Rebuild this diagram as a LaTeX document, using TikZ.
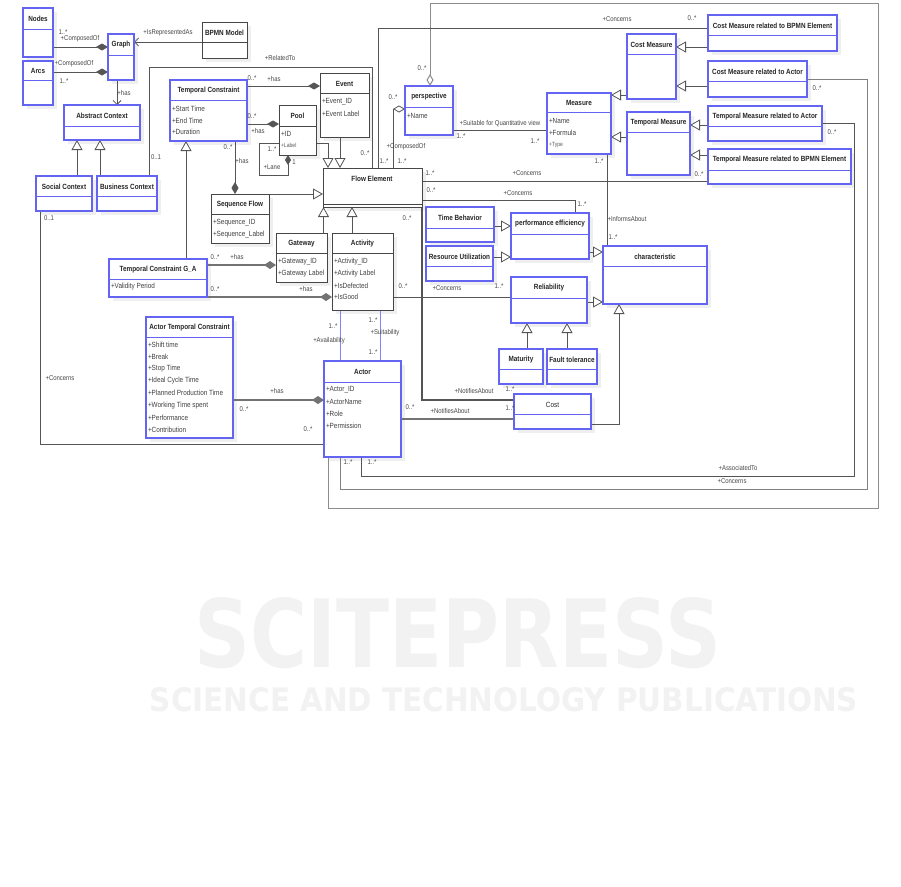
\documentclass[tikz,border=0pt]{standalone}
\usepackage{fontspec}
\usepackage{graphicx}
\setmainfont{Liberation Sans}[FakeStretch=0.85]
\newfontfamily\wmfont{DejaVu Sans}
\usetikzlibrary{arrows.meta,calc}
\pgfdeclarelayer{back}
\pgfdeclarelayer{bg}
\pgfsetlayers{back,bg,main}
\definecolor{ublue}{RGB}{100,100,242}
\definecolor{udark}{RGB}{70,70,70}
\definecolor{uline}{RGB}{85,85,85}
\definecolor{ushadow}{RGB}{239,239,239}
\definecolor{wmc}{RGB}{242,242,242}
\tikzset{
  every node/.style={inner sep=0pt, outer sep=0pt},
  cbox/.style={fill=white, anchor=north west, inner sep=0pt, outer sep=0pt},
  bx-ublue/.style={draw=ublue, line width=1.1pt},
  bx-udark/.style={draw=udark, line width=0.9pt},
  ttl/.style={font=\fontsize{7.5}{8}\selectfont\bfseries, text=black!85},
  att/.style={font=\fontsize{7.5}{8}\selectfont, text=black!75, anchor=west},
  satt/.style={font=\fontsize{6}{7}\selectfont, text=black!65, anchor=west},
  lbl/.style={font=\fontsize{7}{8}\selectfont, text=black!72},
  conn/.style={draw=uline, line width=0.8pt},
  thk/.style={draw=black!55, line width=1.6pt},
  bconn/.style={draw=ublue!80, line width=1pt},
  gen/.style={conn, -{Triangle[open, length=10pt, width=11pt, fill=white]}},
  comp/.style={conn, -{Diamond[length=12pt, width=7pt]}},
  aggr/.style={conn, -{Diamond[open, length=12pt, width=7pt, fill=white]}},
  navi/.style={conn, -{Straight Barb[length=4pt, width=8pt]}},
}
% name, x1, y1, x2, y2, separator y, title, colour
\newcommand{\umlc}[8]{%
  \begin{pgfonlayer}{bg}\fill[ushadow] (#2+4,#3+4) rectangle (#4+4,#5+4);\end{pgfonlayer}
  \node[cbox, bx-#8, minimum width=#4pt-#2pt, minimum height=#5pt-#3pt] (#1) at (#2,#3) {};
  \draw[#8, line width=1pt] (#2,#6) -- (#4,#6);
  \node[ttl] (#1-t) at ({(#2+#4)/2},{(#3+#6)/2+0.5}) {#7};
}
\newcommand{\att}[4]{\node[att] (#1) at (#2,#3) {#4};}
\newcommand{\lb}[4]{\node[lbl] (#1) at (#2,#3) {#4};}
\begin{document}
\begin{tikzpicture}[x=1pt,y=-1pt]
\useasboundingbox (0,0) rectangle (901,886);
\begin{pgfonlayer}{back}
  \fill[white] (0,0) rectangle (901,886);
  \node[text=wmc] (wm1) at (458,633) {\resizebox{526pt}{70pt}{\wmfont\bfseries SCITEPRESS}};
  \node[text=wmc] (wm2) at (504,700) {\resizebox{708pt}{24pt}{\wmfont\bfseries SCIENCE AND TECHNOLOGY PUBLICATIONS}};
\end{pgfonlayer}

% ---------- classes ----------
\umlc{nodes}{23}{8}{53}{57}{29}{Nodes}{ublue}
\umlc{arcs}{23}{61}{53}{105}{80}{Arcs}{ublue}
\umlc{graph}{108}{34}{134}{80}{55}{Graph}{ublue}
\umlc{bpmn}{202}{22}{247}{58}{42}{BPMN Model}{udark}
\umlc{abs}{64}{105}{140}{140}{126}{Abstract Context}{ublue}
\umlc{social}{36}{176}{92}{211}{196}{Social Context}{ublue}
\umlc{business}{97}{176}{157}{211}{196}{Business Context}{ublue}
\umlc{tc}{170}{80}{247}{141}{100}{Temporal Constraint}{ublue}
\att{tc-a1}{172}{109}{+Start Time}
\att{tc-a2}{172}{121}{+End Time}
\att{tc-a3}{172}{132}{+Duration}
\umlc{event}{320}{73}{369}{137}{93}{Event}{udark}
\att{event-a1}{322}{102}{+Event\_ID}
\att{event-a2}{322}{114}{+Event Label}
\umlc{pool}{279}{105}{316}{155}{126}{Pool}{udark}
\att{pool-a1}{281}{134}{+ID}
\node[satt] (pool-a2) at (281,145) {+Label};
\umlc{fe}{323}{168}{422}{207}{204}{}{udark}
\node[ttl] (fe-tt) at (372,178.5) {Flow Element};
\umlc{sf}{211}{194}{269}{243}{214}{Sequence Flow}{udark}
\att{sf-a1}{213}{223}{+Sequence\_ID}
\att{sf-a2}{213}{235}{+Sequence\_Label}
\umlc{gw}{276}{233}{327}{282}{253}{Gateway}{udark}
\att{gw-a1}{278}{262}{+Gateway\_ID}
\att{gw-a2}{278}{274}{+Gateway Label}
\umlc{act}{332}{233}{393}{310}{253}{Activity}{udark}
\att{act-a1}{334}{262}{+Activity\_ID}
\att{act-a2}{334}{274}{+Activity Label}
\att{act-a3}{334}{286}{+IsDefected}
\att{act-a4}{334}{297}{+IsGood}
\umlc{tcga}{109}{259}{207}{297}{279}{Temporal Constraint G\_A}{ublue}
\att{tcga-a1}{111}{287}{+Validity Period}
\umlc{atc}{146}{317}{233}{438}{337}{Actor Temporal Constraint}{ublue}
\att{atc-a1}{148}{345}{+Shift time}
\att{atc-a2}{148}{357}{+Break}
\att{atc-a3}{148}{369}{+Stop Time}
\att{atc-a4}{148}{381}{+Ideal Cycle Time}
\att{atc-a5}{148}{393}{+Planned Production Time}
\att{atc-a6}{148}{406}{+Working Time spent}
\att{atc-a7}{148}{418}{+Performance}
\att{atc-a8}{148}{430}{+Contribution}
\umlc{actor}{324}{361}{401}{457}{382}{Actor}{ublue}
\att{actor-a1}{326}{390}{+Actor\_ID}
\att{actor-a2}{326}{402}{+ActorName}
\att{actor-a3}{326}{414}{+Role}
\att{actor-a4}{326}{426}{+Permission}
\umlc{persp}{405}{86}{453}{135}{107}{perspective}{ublue}
\att{persp-a1}{407}{116}{+Name}
\umlc{meas}{547}{93}{611}{154}{112}{Measure}{ublue}
\att{meas-a1}{549}{121}{+Name}
\att{meas-a2}{549}{133}{+Formula}
\node[satt] (meas-a3) at (549,145) {+Type};
\umlc{cm}{627}{34}{676}{99}{54}{Cost Measure}{ublue}
\umlc{tm}{627}{112}{690}{175}{132}{Temporal Measure}{ublue}
\umlc{cmrbe}{708}{15}{837}{51}{35}{Cost Measure related to BPMN Element}{ublue}
\umlc{cmra}{708}{61}{807}{97}{81}{Cost Measure related to Actor}{ublue}
\umlc{tmra}{708}{106}{822}{141}{126}{Temporal Measure related to Actor}{ublue}
\umlc{tmrbe}{708}{149}{851}{184}{170}{Temporal Measure related to BPMN Element}{ublue}
\umlc{tb}{426}{207}{494}{242}{228}{Time Behavior}{ublue}
\umlc{ru}{426}{246}{493}{281}{266}{Resource Utilization}{ublue}
\umlc{pe}{511}{213}{589}{259}{234}{performance efficiency}{ublue}
\umlc{char}{603}{246}{707}{304}{266}{characteristic}{ublue}
\umlc{rel}{511}{277}{587}{323}{298}{Reliability}{ublue}
\umlc{mat}{499}{349}{543}{384}{369}{Maturity}{ublue}
\umlc{ft}{547}{349}{597}{384}{369}{Fault tolerance}{ublue}
\umlc{cost}{514}{394}{591}{429}{414}{\mdseries Cost}{ublue}

% ---------- connectors ----------
\begin{pgfonlayer}{bg}
\draw[comp] (nodes.east |- 0,47) -- (graph.west |- 0,47);
\draw[comp] (arcs.east |- 0,72) -- (graph.west |- 0,72);
\draw[navi] (bpmn.west |- 0,42) -- (graph.east |- 0,42);
\draw[navi] (graph.south -| 117,0) -- (abs.north -| 117,0);
\draw[gen] (social.north -| 77,0) -- (abs.south -| 77,0);
\draw[gen] (business.north -| 100,0) -- (abs.south -| 100,0);
\draw[conn] (business.north -| 149,0) -- (149,67) -- (372,67) -- (fe.north -| 372,0);
\draw[comp] (tc.east |- 0,86) -- (event.west |- 0,86);
\draw[comp] (tc.east |- 0,124) -- (pool.west |- 0,124);
\draw[comp] (tc.south -| 235,0) -- (sf.north -| 235,0);
\draw[gen] (tcga.north -| 186,0) -- (tc.south -| 186,0);
\draw[gen] (pool.east |- 0,143) -- (328,143) -- (fe.north -| 328,0);
\draw[gen] (event.south -| 340,0) -- (fe.north -| 340,0);
\draw[gen] (sf.north east) -- (fe.west |- sf.north east);
\draw[gen] (gw.north -| 323.5,0) -- (fe.south -| 323.5,0);
\draw[gen] (act.north -| 352,0) -- (fe.south -| 352,0);
\draw[thk, -{Diamond[length=12pt, width=8pt]}] (tcga.east |- 0,265) -- (gw.west |- 0,265);
\draw[thk, -{Diamond[length=12pt, width=8pt]}] (tcga.east |- 0,297) -- (act.west |- 0,297);
\draw[bconn] (act.south -| 340,0) -- (actor.north -| 340,0);
\draw[bconn] (act.south -| 380,0) -- (actor.north -| 380,0);
\draw[thk, -{Diamond[length=12pt, width=8pt]}] (atc.east |- 0,400) -- (actor.west |- 0,400);
\draw[conn] (social.south -| 40,0) -- (40,444) -- (actor.west |- 0,444);
\draw[conn, {Diamond[length=10pt, width=6pt]}-] (pool.south -| 288,0) -- (288,175) -- (259,175) -- (259,143) -- (pool.west |- 0,143);
\draw[aggr, line width=1pt, draw=black!45] (actor.south -| 328,0) -- (328,508) -- (878,508) -- (878,3) -- (430,3) -- (persp.north -| 430,0);
\draw[conn, line width=1pt, draw=black!50] (actor.south -| 340,0) -- (340,489) -- (867,489) -- (867,79) -- (cmra.east |- 0,79);
\draw[conn] (actor.south -| 361,0) -- (361,476) -- (854,476) -- (854,123) -- (tmra.east |- 0,123);
\draw[conn] (fe.north -| 378,0) -- (378,28) -- (cmrbe.west |- 0,28);
\draw[aggr] (fe.north -| 393,0) -- (393,109) -- (persp.west |- 0,109);
\draw[conn] (persp.east |- 0,130) -- (meas.west |- 0,130);
\draw[gen] (cm.west |- 0,95) -- (meas.east |- 0,95);
\draw[gen] (tm.west |- 0,137) -- (meas.east |- 0,137);
\draw[gen] (cmrbe.west |- 0,47) -- (cm.east |- 0,47);
\draw[gen] (cmra.west |- 0,86) -- (cm.east |- 0,86);
\draw[gen] (tmra.west |- 0,125) -- (tm.east |- 0,125);
\draw[gen] (tmrbe.west |- 0,155) -- (tm.east |- 0,155);
\draw[conn] (meas.south -| 607,0) -- (char.north -| 607,0);
\draw[conn] (fe.east |- 0,181) -- (tmrbe.west |- 0,181);
\draw[conn] (fe.east |- 0,200) -- (575,200) -- (pe.north -| 575,0);
\draw[gen] (tb.east |- 0,226) -- (pe.west |- 0,226);
\draw[gen] (ru.east |- 0,257) -- (pe.west |- 0,257);
\draw[gen] (pe.east |- 0,252) -- (char.west |- 0,252);
\draw[gen] (rel.east |- 0,302) -- (char.west |- 0,302);
\draw[gen] (mat.north -| 527,0) -- (rel.south -| 527,0);
\draw[gen] (ft.north -| 567,0) -- (rel.south -| 567,0);
\draw[gen] (cost.east |- 0,424) -- (619,424) -- (char.south -| 619,0);
\draw[conn] (act.east |- 0,297) -- (rel.west |- 0,297);
\draw[conn, line width=1.2pt] (fe.south east) -- (422,400) -- (cost.west |- 0,400);
\draw[thk] (actor.east |- 0,419) -- (cost.west |- 0,419);
\end{pgfonlayer}

% ---------- labels ----------
\lb{lb1}{63}{32}{1..*}
\lb{lb2}{80}{39}{+ComposedOf}
\lb{lb3}{74}{64}{+ComposedOf}
\lb{lb4}{64}{81}{1..*}
\lb{lb5}{168}{33}{+IsRepresentedAs}
\lb{lb6}{124}{93}{+has}
\lb{lb7}{156}{157}{0..1}
\lb{lb8}{280}{58}{+RelatedTo}
\lb{lb9}{252}{78}{0..*}
\lb{lb10}{274}{79}{+has}
\lb{lb11}{252}{116}{0..*}
\lb{lb12}{258}{131}{+has}
\lb{lb13}{228}{147}{0..*}
\lb{lb14}{242}{161}{+has}
\lb{lb15}{272}{149}{1..*}
\lb{lb16}{272}{167}{+Lane}
\lb{lb17}{294}{162}{1}
\lb{lb18}{365}{153}{0..*}
\lb{lb19}{384}{161}{1..*}
\lb{lb20}{402}{161}{1..*}
\lb{lb21}{406}{147}{+ComposedOf}
\lb{lb22}{393}{97}{0..*}
\lb{lb23}{422}{68}{0..*}
\lb{lb24}{617}{19}{+Concerns}
\lb{lb25}{692}{18}{0..*}
\lb{lb26}{500}{124}{+Suitable for Quantitative view}
\lb{lb27}{461}{136}{1..*}
\lb{lb28}{535}{141}{1..*}
\lb{lb29}{430}{173}{1..*}
\lb{lb30}{527}{173}{+Concerns}
\lb{lb31}{699}{174}{0..*}
\lb{lb32}{431}{190}{0..*}
\lb{lb33}{518}{193}{+Concerns}
\lb{lb34}{582}{204}{1..*}
\lb{lb35}{407}{218}{0..*}
\lb{lb36}{599}{161}{1..*}
\lb{lb37}{627}{219}{+InformsAbout}
\lb{lb38}{613}{237}{1..*}
\lb{lb39}{817}{88}{0..*}
\lb{lb40}{832}{132}{0..*}
\lb{lb41}{215}{257}{0..*}
\lb{lb42}{237}{257}{+has}
\lb{lb43}{215}{289}{0..*}
\lb{lb44}{306}{289}{+has}
\lb{lb45}{403}{286}{0..*}
\lb{lb46}{447}{288}{+Concerns}
\lb{lb47}{499}{286}{1..*}
\lb{lb48}{333}{326}{1..*}
\lb{lb49}{329}{341}{+Availability}
\lb{lb50}{373}{320}{1..*}
\lb{lb51}{385}{333}{+Suitability}
\lb{lb52}{373}{352}{1..*}
\lb{lb53}{277}{391}{+has}
\lb{lb54}{244}{409}{0..*}
\lb{lb55}{49}{218}{0..1}
\lb{lb56}{60}{378}{+Concerns}
\lb{lb57}{308}{429}{0..*}
\lb{lb58}{410}{407}{0..*}
\lb{lb59}{450}{411}{+NotifiesAbout}
\lb{lb60}{510}{408}{1..*}
\lb{lb61}{474}{391}{+NotifiesAbout}
\lb{lb62}{510}{389}{1..*}
\lb{lb63}{348}{462}{1..*}
\lb{lb64}{372}{462}{1..*}
\lb{lb65}{738}{468}{+AssociatedTo}
\lb{lb66}{732}{481}{+Concerns}
\end{tikzpicture}
\end{document}
